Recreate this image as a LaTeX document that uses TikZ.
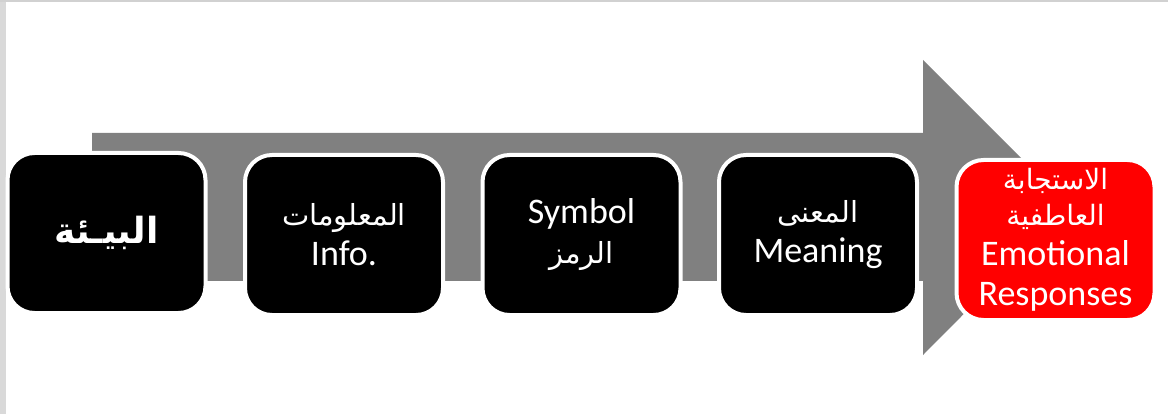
\documentclass[tikz,border=0pt]{standalone}
\usepackage{fontspec}
\setmainfont{Carlito}
\newfontfamily\arabicfont[Script=Arabic]{DejaVu Sans}
\TeXXeTstate=1
\usepackage{tikz}
\newcommand{\artext}[2][29]{{\arabicfont\fontsize{#1}{42}\selectfont\beginR #2\endR}}

\begin{document}
\begin{tikzpicture}[x=1pt,y=-1pt,
    stage/.style={shape=rectangle,rounded corners=27pt,draw=white,line width=4pt,
        fill=black,text=white,minimum width=198pt,minimum height=160pt,
        align=center,font=\fontsize{36}{40}\selectfont}]
    \useasboundingbox (0,0) rectangle (1168,414);
    % frame edges
    \fill[black!15] (0,0) rectangle (6,414);
    \fill[black!18] (0,0) rectangle (1168,2);
    % big grey arrow
    \fill[black!50] (92,133) -- (923,133) -- (923,60) -- (1070,207)
        -- (923,355) -- (923,281) -- (92,281) -- cycle;
    % stages
    \node[stage] (env) at (106.5,233)
        {{\arabicfont\bfseries\fontsize{36}{40}\selectfont\beginR البيـئة\endR}};
    \node[stage] (info) at (344,235) {\artext{المعلومات}\\Info.};
    \node[stage] (sym) at (581.5,235) {Symbol\\\artext{الرمز}};
    \node[stage] (mean) at (818,235) {\artext{المعنى}\\Meaning};
    \node[stage,fill=red] (resp) at (1055.5,240)
        {\artext[28]{الاستجابة}\\[-4pt]\artext[28]{العاطفية}\\Emotional\\Responses};
\end{tikzpicture}
\end{document}
